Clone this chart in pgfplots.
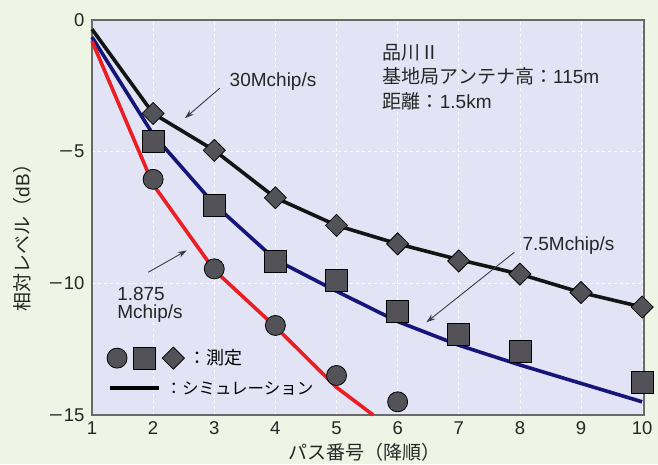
\documentclass[border=0pt]{standalone}
\usepackage{pgfplots}
\pgfplotsset{compat=1.18}
\usetikzlibrary{arrows.meta}
\usepackage{fontspec}
\setmainfont{Liberation Sans}
\newfontfamily\cjk{Noto Sans CJK JP}
\newcommand{\mns}{\scalebox{1.3}[1]{−}\kern1pt}
\definecolor{outerbg}{RGB}{238,245,228}
\definecolor{plotbg}{RGB}{226,227,244}
\definecolor{markgray}{RGB}{82,82,88}
\definecolor{simblue}{RGB}{22,22,120}
\definecolor{simred}{RGB}{235,30,35}
\definecolor{framegray}{RGB}{105,105,105}
\definecolor{arrowgray}{RGB}{60,60,70}
\begin{document}
\begin{tikzpicture}
\fill[outerbg] (0,0) rectangle (658pt,464pt);
\begin{axis}[
  at={(92pt,49pt)}, anchor=south west,
  scale only axis, width=552pt, height=395pt,
  xmin=1, xmax=10.03, ymin=-15, ymax=0,
  xtick={1,2,3,4,5,6,7,8,9,10},
  xticklabels={1,2,3,4,5,6,7,8,9,10},
  ytick={-15,-10,-5,0},
  yticklabels={\mns 15,\mns 10,\mns 5,0},
  major tick length=0pt,
  grid=major,
  major grid style={white!97!plotbg, dashed, line width=0.8pt},
  axis background/.style={fill=plotbg},
  axis line style={framegray, line width=1.2pt},
  tick label style={font=\fontsize{18.5}{20}\selectfont, text=black!85},
  xticklabel style={yshift=-3pt},
  yticklabel style={xshift=-4pt},
  clip=false,
]
% simulation lines
\addplot[black!92, line width=3.6pt, line join=round] coordinates {
(1,-0.35) (2,-3.55) (3,-4.95) (4,-6.75) (5,-7.8) (6,-8.5) (7,-9.1) (8,-9.65) (9,-10.35) (10,-10.9)};
\addplot[simblue, line width=3.6pt, line join=round] coordinates {
(1,-0.65) (2,-4.35) (3,-7.0) (4,-9.1) (5,-10.3) (6,-11.45) (7,-12.35) (8,-13.1) (9,-13.8) (10,-14.5)};
\addplot[simred, line width=3.6pt, line join=round] coordinates {
(1,-0.8) (2,-6.25) (3,-9.5) (4,-11.65) (5,-13.95) (5.6,-15)};
% measured
\addplot[only marks, mark=*, mark size=10pt, mark options={fill=markgray, draw=black, line width=0.8pt}] coordinates {
(2,-6.05) (3,-9.45) (4,-11.6) (5,-13.5) (6,-14.5)};
\addplot[only marks, mark=square*, mark size=11pt, mark options={fill=markgray, draw=black, line width=0.8pt}] coordinates {
(2,-4.6) (3,-7.05) (4,-9.15) (5,-9.9) (6,-11.05) (7,-11.95) (8,-12.6) (10,-13.75)};
\addplot[only marks, mark=square*, mark size=7.8pt, mark options={rotate=45, fill=markgray, draw=black, line width=0.8pt}] coordinates {
(2,-3.55) (3,-4.95) (4,-6.75) (5,-7.8) (6,-8.5) (7,-9.15) (8,-9.65) (9,-10.35) (10,-10.9)};
% legend samples
\addplot[only marks, mark=*, mark size=10pt, mark options={fill=markgray, draw=black, line width=0.8pt}] coordinates {(1.41,-12.84)};
\addplot[only marks, mark=square*, mark size=11pt, mark options={fill=markgray, draw=black, line width=0.8pt}] coordinates {(1.85,-12.84)};
\addplot[only marks, mark=square*, mark size=7.8pt, mark options={rotate=45, fill=markgray, draw=black, line width=0.8pt}] coordinates {(2.33,-12.84)};
\addplot[black, line width=3.6pt] coordinates {(1.29,-13.98) (2.09,-13.98)};
\node[anchor=west, inner sep=0pt, font=\fontsize{18}{20}\selectfont] at (axis cs:2.58,-12.84) {\cjk ：測定};
\node[anchor=west, inner sep=0pt, font=\fontsize{16.5}{20}\selectfont] at (axis cs:2.2,-13.98) {\cjk ：シミュレーション};
% annotations
\node[anchor=west, inner sep=0pt, font=\fontsize{19}{20}\selectfont, text=black!85] at (axis cs:3.25,-2.32) {30Mchip/s};
\draw[arrowgray, line width=0.9pt, -{Stealth[length=9pt, width=6pt]}] (axis cs:3.09,-2.59) -- (axis cs:2.52,-3.73);
\node[anchor=west, inner sep=0pt, font=\fontsize{19}{20}\selectfont, text=black!85] at (axis cs:8.04,-8.55) {7.5Mchip/s};
\draw[arrowgray, line width=0.9pt, -{Stealth[length=9pt, width=6pt]}] (axis cs:7.91,-8.82) -- (axis cs:6.47,-11.48);
\node[anchor=west, inner sep=0pt, align=left, font=\fontsize{19}{18}\selectfont, text=black!85] at (axis cs:1.41,-10.82) {1.875\\Mchip/s};
\draw[arrowgray, line width=0.9pt, -{Stealth[length=9pt, width=6pt]}] (axis cs:1.92,-9.58) -- (axis cs:2.55,-8.75);
\node[anchor=north west, inner sep=0pt, align=left, font=\fontsize{19}{24.5}\selectfont, text=black!85] at (axis cs:5.755,-0.91) {{\cjk 品川Ⅱ}\\{\cjk 基地局アンテナ高：}115m\\{\cjk 距離：}1.5km};
% axis labels
\node[rotate=90, font=\fontsize{19}{20}\selectfont, text=black!85] at (axis cs:-0.144,-8.09) {{\cjk 相対レベル（}dB{\cjk ）}};
\node[font=\fontsize{19}{20}\selectfont, text=black!85] at (axis cs:5.46,-16.41) {\cjk パス番号（降順）};
\end{axis}
\end{tikzpicture}
\end{document}
